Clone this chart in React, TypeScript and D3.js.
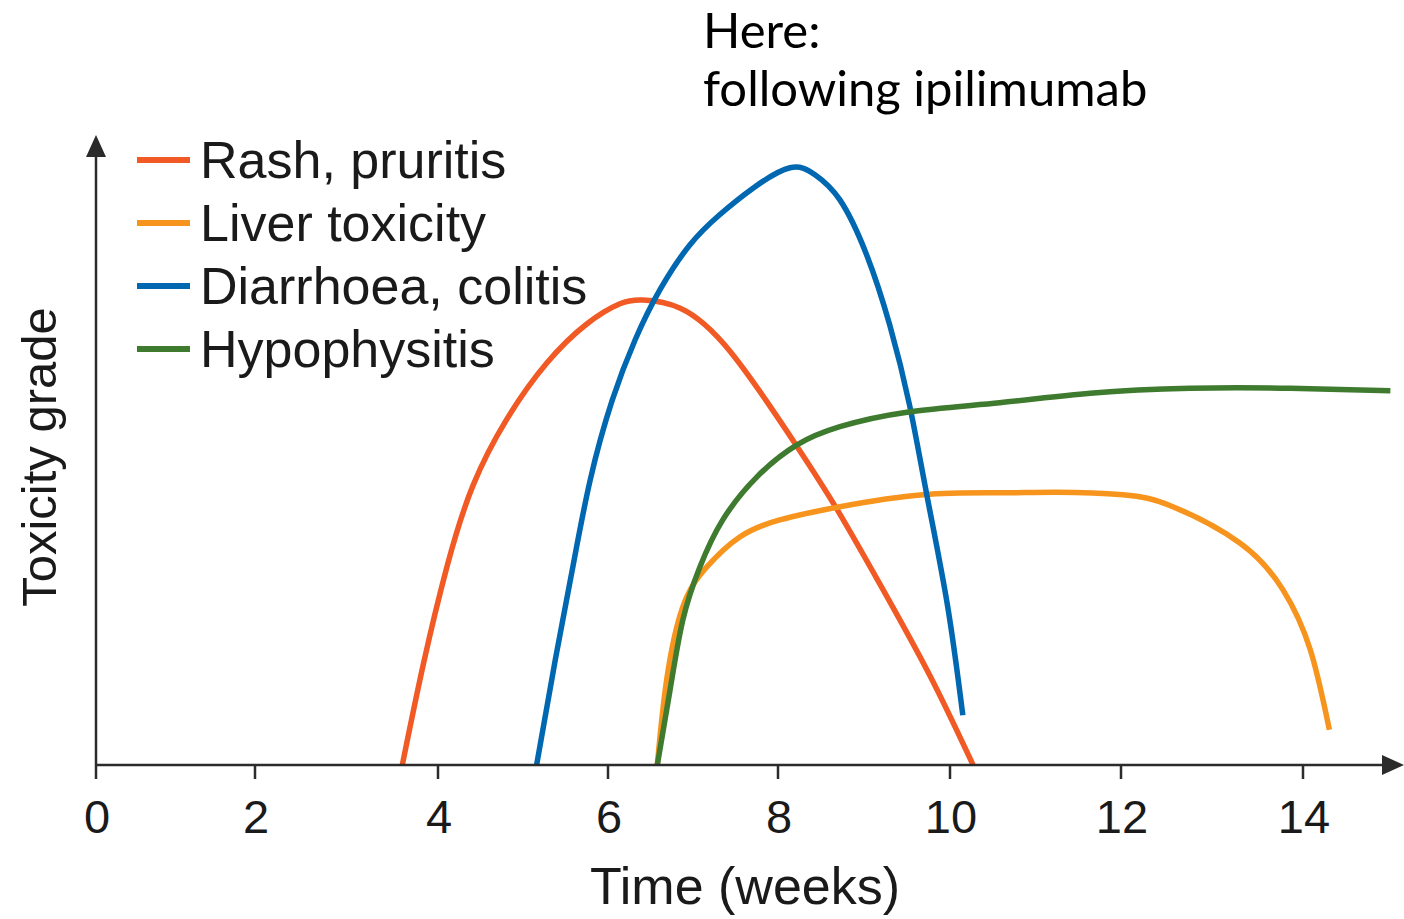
import * as d3 from "d3";

type Pt = [number, number];

// weeks on x, toxicity grade (arbitrary 0–10) on y
const rashPruritis: Pt[] = [
  [3.61, 0], [3.84, 1.6], [4.11, 3.17], [4.41, 4.43], [4.81, 5.49], [5.28, 6.38], [5.75, 7.0],
  [6.14, 7.32], [6.41, 7.38], [6.85, 7.25], [7.44, 6.56], [8.2, 5.1],
  [8.69, 4.05], [9.19, 2.86], [9.77, 1.41], [10.27, 0],
];

const liverToxicity: Pt[] = [
  [6.58, 0], [6.69, 1.35], [6.88, 2.51], [7.16, 3.14], [7.55, 3.62], [8.02, 3.89], [8.72, 4.1],
  [9.69, 4.29], [10.58, 4.32], [11.25, 4.33], [12.02, 4.29], [12.57, 4.1], [13.31, 3.52],
  [13.78, 2.78], [14.08, 1.83], [14.29, 0.56],
];

const diarrhoeaColitis: Pt[] = [
  [5.16, 0], [5.38, 1.67], [5.58, 3.1], [5.79, 4.52], [6.05, 5.79], [6.32, 6.75], [6.61, 7.54],
  [6.96, 8.25], [7.31, 8.73], [7.71, 9.16], [8.14, 9.48], [8.43, 9.37], [8.72, 8.97], [9.03, 8.1],
  [9.3, 6.98], [9.53, 5.71], [9.73, 4.29], [9.97, 2.54], [10.15, 0.79],
];

const hypophysitis: Pt[] = [
  [6.58, 0], [6.73, 1.19], [6.88, 2.3], [7.08, 3.14], [7.35, 3.89], [7.75, 4.57], [8.22, 5.08],
  [8.72, 5.37], [9.5, 5.6], [10.58, 5.75], [11.64, 5.9], [12.76, 5.98], [13.86, 5.98], [14.96, 5.94],
];

const xTicks = [0, 2, 4, 6, 8, 10, 12, 14];

const series = [
  { label: "Rash, pruritis", color: "#f15a24", data: rashPruritis },
  { label: "Liver toxicity", color: "#f7941d", data: liverToxicity },
  { label: "Diarrhoea, colitis", color: "#0067b1", data: diarrhoeaColitis },
  { label: "Hypophysitis", color: "#3e7b2f", data: hypophysitis },
];

const font = "'Liberation Sans', Arial, Helvetica, sans-serif";
const noteFont = "Lato, 'Open Sans', sans-serif";

export default function App() {
  const width = 1404;
  const height = 919;
  const x0 = 96;
  const y0 = 765;
  // the printed axis is a bit uneven, so the scale follows the tick marks
  const x = d3
    .scaleLinear()
    .domain([0, 2, 4, 6, 8, 10, 12, 14, 15])
    .range([x0, 255, 438, 608, 778, 950, 1121, 1303, 1394]);
  const y = d3.scaleLinear().domain([0, 10]).range([y0, 135]);
  const line = d3
    .line<Pt>()
    .x((d) => x(d[0]))
    .y((d) => y(d[1]))
    .curve(d3.curveNatural);
  const axisColor = "#2b2b2b";

  return (
    <svg
      width={width}
      height={height}
      viewBox={`0 0 ${width} ${height}`}
      style={{ position: "absolute", left: 0, top: 0, background: "#fff" }}
    >
      <text x={703} y={48} fontFamily={noteFont} fontSize={49} fill="#000">
        Here:
      </text>
      <text x={703} y={106} fontFamily={noteFont} fontSize={49} fill="#000">
        following ipilimumab
      </text>

      {series.map((s) => (
        <path key={s.label} d={line(s.data) ?? ""} fill="none" stroke={s.color} strokeWidth={5.5} strokeLinecap="butt" />
      ))}

      {/* axes */}
      <line x1={x0} x2={x0} y1={y0} y2={y(10) + 18} stroke={axisColor} strokeWidth={2.5} />
      <path d={`M${x0},${y(10)} L${x0 - 10},${y(10) + 22} L${x0 + 10},${y(10) + 22} Z`} fill={axisColor} />
      <line x1={x0} x2={width - 18} y1={y0} y2={y0} stroke={axisColor} strokeWidth={2.5} />
      <path d={`M${width},${y0} L${width - 22},${y0 - 10} L${width - 22},${y0 + 10} Z`} fill={axisColor} />

      {xTicks.map((t) => (
        <g key={t}>
          <line x1={x(t)} x2={x(t)} y1={y0} y2={y0 + 14} stroke={axisColor} strokeWidth={2.5} />
          <text x={x(t) + 1} y={833} textAnchor="middle" fontFamily={font} fontSize={47} fill="#1a1a1a">
            {t}
          </text>
        </g>
      ))}

      <text x={745} y={904} textAnchor="middle" fontFamily={font} fontSize={52} fill="#1a1a1a">
        Time (weeks)
      </text>
      <text
        x={0}
        y={0}
        transform="translate(56 457) rotate(-90)"
        textAnchor="middle"
        fontFamily={font}
        fontSize={49}
        fill="#1a1a1a"
      >
        Toxicity grade
      </text>

      {/* legend */}
      {series.map((s, i) => (
        <g key={s.label} transform={`translate(137, ${160 + i * 63})`}>
          <line x1={0} x2={53} y1={0} y2={0} stroke={s.color} strokeWidth={6} />
          <text x={63} y={18} fontFamily={font} fontSize={52} fill="#1a1a1a">
            {s.label}
          </text>
        </g>
      ))}
    </svg>
  );
}
